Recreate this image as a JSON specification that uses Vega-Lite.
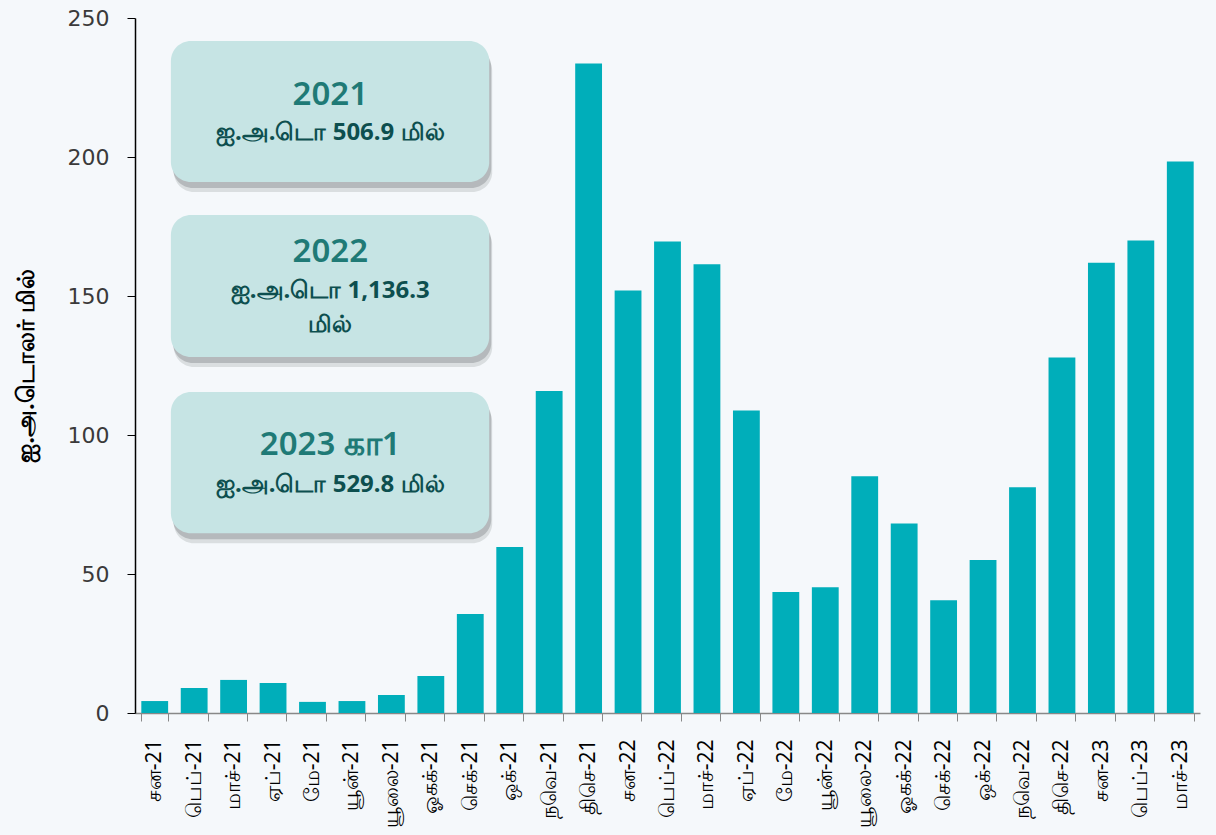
{
  "$schema": "https://vega.github.io/schema/vega-lite/v6.json",
  "autosize": {"type": "none"},
  "width": 1065,
  "height": 695,
  "padding": {"left": 135, "top": 18, "right": 16, "bottom": 122},
  "background": "#f5f8fb",
  "config": {"view": {"stroke": null}},
  "datasets": {
    "bars": [
      {"m": "சன-21", "v": 4.3},
      {"m": "பெப்-21", "v": 9.0},
      {"m": "மாச்-21", "v": 11.9},
      {"m": "ஏப்-21", "v": 10.8},
      {"m": "மே-21", "v": 4.0},
      {"m": "யூன்-21", "v": 4.3},
      {"m": "யூலை-21", "v": 6.5},
      {"m": "ஓகக்-21", "v": 13.3},
      {"m": "செக்-21", "v": 35.6},
      {"m": "ஒக்-21", "v": 59.7},
      {"m": "நவெ-21", "v": 115.8},
      {"m": "திசெ-21", "v": 233.6},
      {"m": "சன-22", "v": 152.0},
      {"m": "பெப்-22", "v": 169.6},
      {"m": "மாச்-22", "v": 161.4},
      {"m": "ஏப்-22", "v": 108.8},
      {"m": "மே-22", "v": 43.5},
      {"m": "யூன்-22", "v": 45.2},
      {"m": "யூலை-22", "v": 85.2},
      {"m": "ஓகக்-22", "v": 68.2},
      {"m": "செக்-22", "v": 40.6},
      {"m": "ஒக்-22", "v": 55.0},
      {"m": "நவெ-22", "v": 81.2},
      {"m": "திசெ-22", "v": 127.9},
      {"m": "சன-23", "v": 162.0},
      {"m": "பெப்-23", "v": 170.0},
      {"m": "மாச்-23", "v": 198.4}
    ],
    "boxes": [
      {"x1": 0.91, "x2": 8.98, "y1": 241.7, "y2": 191.0},
      {"x1": 0.91, "x2": 8.98, "y1": 179.1, "y2": 128.1},
      {"x1": 0.91, "x2": 8.98, "y1": 115.5, "y2": 64.7}
    ],
    "labels": [
      {"x": 4.95, "y": 222.3, "t": "2021", "k": "year"},
      {"x": 4.95, "y": 208.6, "t": "ஐ.அ.டொ 506.9 மில்", "k": "amt"},
      {"x": 4.95, "y": 165.8, "t": "2022", "k": "year"},
      {"x": 4.95, "y": 151.8, "t": "ஐ.அ.டொ 1,136.3", "k": "amt"},
      {"x": 4.95, "y": 139.6, "t": "மில்", "k": "amt"},
      {"x": 4.95, "y": 96.4, "t": "2023 கா1", "k": "year"},
      {"x": 4.95, "y": 82.0, "t": "ஐ.அ.டொ 529.8 மில்", "k": "amt"}
    ]
  },
  "layer": [
    {
      "data": {"name": "bars"},
      "mark": {"type": "bar", "color": "#00aeba"},
      "encoding": {
        "x": {
          "field": "m", "type": "nominal", "sort": null,
          "scale": {"paddingInner": 0.32, "paddingOuter": 0.16},
          "axis": {
            "title": null, "labelAngle": -90, "labelFontSize": 21, "labelColor": "#000000",
            "labelFont": "Noto Sans", "labelPadding": 18,
            "tickBand": "extent", "tickSize": 8, "tickColor": "#888888",
            "domainColor": "#888888", "domainWidth": 1.5
          }
        },
        "y": {
          "field": "v", "type": "quantitative",
          "scale": {"domain": [0, 250], "nice": false},
          "axis": {
            "title": "ஐ.அ.டொலர் மில்", "titleFontSize": 24, "titleFontWeight": "bold",
            "titleColor": "#000000", "titleX": -97, "titleFont": "Noto Sans",
            "values": [0, 50, 100, 150, 200, 250], "grid": false,
            "labelFontSize": 22, "labelColor": "#3a3a3a", "labelFont": "DejaVu Sans",
            "labelPadding": 18, "tickSize": 8, "tickColor": "#000000",
            "domainColor": "#000000", "domainWidth": 1.5
          }
        }
      }
    },
    {
      "data": {"name": "boxes"},
      "mark": {"type": "rect", "cornerRadius": 20, "fill": "#6f7678", "opacity": 0.2,
               "xOffset": 3, "x2Offset": 3, "yOffset": 10, "y2Offset": 10},
      "encoding": {
        "x": {"field": "x1", "type": "quantitative", "scale": {"domain": [0, 27]}, "axis": null},
        "x2": {"field": "x2"},
        "y": {"field": "y1", "type": "quantitative"},
        "y2": {"field": "y2"}
      }
    },
    {
      "data": {"name": "boxes"},
      "mark": {"type": "rect", "cornerRadius": 20, "fill": "#6f7678", "opacity": 0.35,
               "xOffset": 2, "x2Offset": 2, "yOffset": 6, "y2Offset": 6},
      "encoding": {
        "x": {"field": "x1", "type": "quantitative", "scale": {"domain": [0, 27]}, "axis": null},
        "x2": {"field": "x2"},
        "y": {"field": "y1", "type": "quantitative"},
        "y2": {"field": "y2"}
      }
    },
    {
      "data": {"name": "boxes"},
      "mark": {"type": "rect", "cornerRadius": 20, "fill": "#c6e4e4"},
      "encoding": {
        "x": {"field": "x1", "type": "quantitative", "scale": {"domain": [0, 27]}, "axis": null},
        "x2": {"field": "x2"},
        "y": {"field": "y1", "type": "quantitative"},
        "y2": {"field": "y2"}
      }
    },
    {
      "data": {"name": "labels"},
      "transform": [{"filter": "datum.k === 'year'"}],
      "mark": {"type": "text", "fontSize": 33, "fontWeight": 600, "color": "#1f7a76", "font": "Noto Sans", "baseline": "middle", "align": "center"},
      "encoding": {
        "x": {"field": "x", "type": "quantitative", "scale": {"domain": [0, 27]}, "axis": null},
        "y": {"field": "y", "type": "quantitative"},
        "text": {"field": "t"}
      }
    },
    {
      "data": {"name": "labels"},
      "transform": [{"filter": "datum.k === 'amt'"}],
      "mark": {"type": "text", "fontSize": 24, "fontWeight": "bold", "color": "#0d4f4f", "font": "Noto Sans", "baseline": "middle", "align": "center"},
      "encoding": {
        "x": {"field": "x", "type": "quantitative", "scale": {"domain": [0, 27]}, "axis": null},
        "y": {"field": "y", "type": "quantitative"},
        "text": {"field": "t"}
      }
    }
  ],
  "resolve": {"scale": {"x": "independent"}}
}
